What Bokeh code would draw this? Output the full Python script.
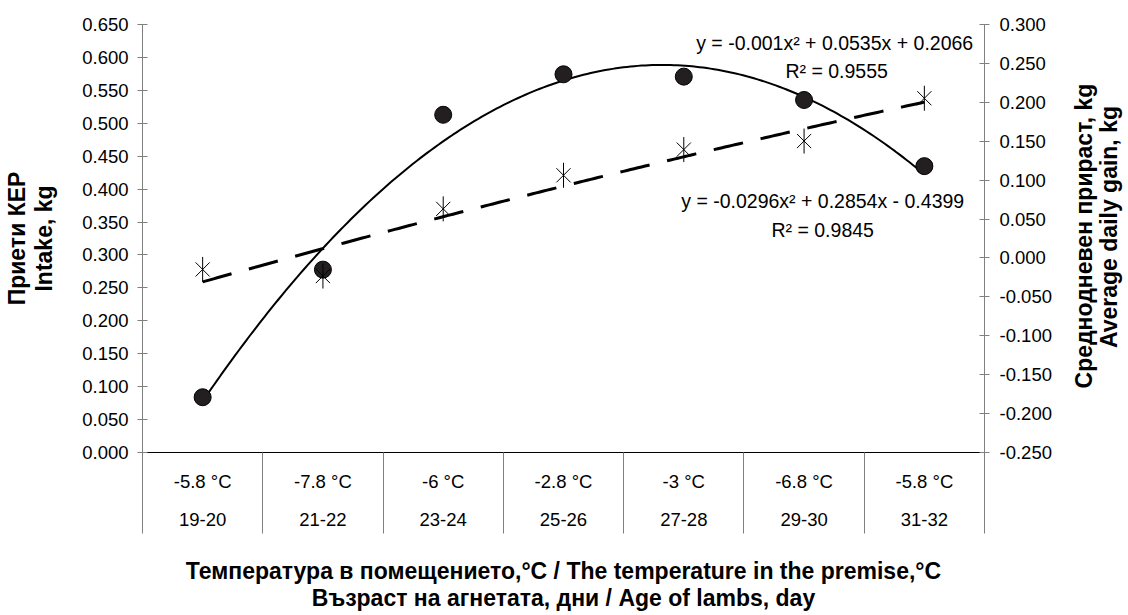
import math
import numpy as np
from bokeh.plotting import figure
from bokeh.layouts import row
from bokeh.models import (Range1d, LinearAxis, FixedTicker, NumeralTickFormatter, Label)
from bokeh.embed import file_html
from bokeh.resources import INLINE

# ---------------- data ----------------
temps = ["-5.8 °C", "-7.8 °C", "-6 °C", "-2.8 °C", "-3 °C", "-6.8 °C", "-5.8 °C"]
ages = ["19-20", "21-22", "23-24", "25-26", "27-28", "29-30", "31-32"]
x_pos = [1, 2, 3, 4, 5, 6, 7]
intake = [0.278, 0.268, 0.370, 0.421, 0.460, 0.473, 0.538]      # left axis, asterisks
gain = [-0.179, -0.015, 0.184, 0.236, 0.233, 0.203, 0.118]      # right axis, circles
intake_coef = [-0.001, 0.0535, 0.2066]
gain_coef = [-0.0296, 0.2854, -0.4399]
left_ticks = [round(0.05 * i, 3) for i in range(14)]
right_ticks = [round(-0.25 + 0.05 * i, 3) for i in range(12)]

FONT = "Liberation Sans"
TICK_FS = "18.5px"
TITLE_FS = "23px"
TITLE_LH = 1.05

W, H = 1128, 615
SIDE_W = 66                      # strip on the right holding the right-axis title
MAIN_W = W - SIDE_W
FL, FR, FT, FB = 141, 984, 24, 452

p = figure(width=MAIN_W, height=H, output_backend="svg", toolbar_location=None,
           x_range=Range1d(0.5, 7.5), y_range=Range1d(0, 0.65),
           min_border_left=FL, min_border_right=MAIN_W - FR,
           min_border_top=FT, min_border_bottom=H - FB)
p.outline_line_color = None
p.xgrid.visible = False
p.ygrid.visible = False
p.background_fill_color = "white"
p.border_fill_color = "white"

p.extra_y_ranges = {"right": Range1d(-0.25, 0.30)}

# left axis
ya = p.yaxis[0]
ya.ticker = FixedTicker(ticks=left_ticks)
ya.formatter = NumeralTickFormatter(format="0.000")
ya.axis_line_color = "#808080"
ya.major_tick_line_color = "#808080"
ya.major_tick_in = 5
ya.major_tick_out = 5
ya.minor_tick_line_color = None
ya.major_label_standoff = 9
ya.major_label_text_font = FONT
ya.major_label_text_font_size = TICK_FS
ya.major_label_text_color = "black"
ya.axis_label = "Приети КЕР\nIntake, kg"
ya.axis_label_text_font = FONT
ya.axis_label_text_font_size = TITLE_FS
ya.axis_label_text_font_style = "bold"
ya.axis_label_text_color = "black"
ya.axis_label_text_line_height = TITLE_LH
ya.axis_label_standoff = 22

# right axis
ra = LinearAxis(y_range_name="right")
ra.ticker = FixedTicker(ticks=right_ticks)
ra.formatter = NumeralTickFormatter(format="0.000")
ra.axis_line_color = "#808080"
ra.major_tick_line_color = "#808080"
ra.major_tick_in = 5
ra.major_tick_out = 5
ra.minor_tick_line_color = None
ra.major_label_standoff = 10
ra.major_label_text_font = FONT
ra.major_label_text_font_size = TICK_FS
ra.major_label_text_color = "black"
p.add_layout(ra, "right")

centers = x_pos
bounds = [0.5 + i for i in range(8)]

# bottom axis 1: temperature labels + category separators (minor ticks)
xa = p.xaxis[0]
xa.ticker = FixedTicker(ticks=centers, minor_ticks=bounds)
xa.major_label_overrides = {c: t for c, t in zip(centers, temps)}
xa.major_label_text_font = FONT
xa.major_label_text_font_size = TICK_FS
xa.major_label_text_color = "black"
xa.major_label_standoff = -63
xa.axis_line_color = "#000000"
xa.major_tick_line_color = None
xa.major_tick_in = 0
xa.major_tick_out = 0
xa.minor_tick_line_color = "#808080"
xa.minor_tick_in = 0
xa.minor_tick_out = 81

# bottom axis 2: age labels + axis title
xb = LinearAxis()
xb.ticker = FixedTicker(ticks=centers)
xb.major_label_overrides = {c: t for c, t in zip(centers, ages)}
xb.major_label_text_font = FONT
xb.major_label_text_font_size = TICK_FS
xb.major_label_text_color = "black"
xb.major_label_standoff = 18
xb.axis_line_color = None
xb.major_tick_line_color = None
xb.minor_tick_line_color = None
xb.major_tick_in = 0
xb.major_tick_out = 0
xb.axis_label = ("Температура в помещението,°C / The temperature in the premise,°C\n"
                 "Възраст на агнетата, дни / Age of lambs, day")
xb.axis_label_text_font = FONT
xb.axis_label_text_font_size = TITLE_FS
xb.axis_label_text_font_style = "bold"
xb.axis_label_text_color = "black"
xb.axis_label_text_line_height = TITLE_LH
xb.axis_label_standoff = 29
p.add_layout(xb, "below")

# helpers: page pixel -> data coordinates (for text inside the frame)
def dx(px):
    return 0.5 + (px - FL) / (FR - FL) * 7.0

def dy(py):
    return (FB - py) / (FB - FT) * 0.65

# trend lines
xs = np.linspace(1, 7, 200)
p.line(xs, np.polyval(gain_coef, xs), y_range_name="right",
       line_color="black", line_width=2)
p.line(xs, np.polyval(intake_coef, xs), line_color="black",
       line_width=3, line_dash="30 18")

# markers
p.scatter(x_pos, gain, y_range_name="right", marker="circle", size=17,
          fill_color="#231f20", line_color="black", line_width=1)
p.scatter(x_pos, intake, marker="x", size=20, line_color="black", line_width=1)
p.scatter(x_pos, intake, marker="dash", angle=np.pi / 2, size=25,
          line_color="black", line_width=1)

def add_text(txt, px, py, size="19.5px"):
    p.add_layout(Label(x=dx(px), y=dy(py), text=txt, text_font=FONT,
                       text_font_size=size, text_align="center",
                       text_baseline="middle", text_color="black"))

# equations
add_text("y = -0.001x² + 0.0535x + 0.2066", 834, 42)
add_text("R² = 0.9555", 836, 70)
add_text("y = -0.0296x² + 0.2854x - 0.4399", 822, 200)
add_text("R² = 0.9845", 822, 229)

# right-hand title strip (text reads bottom-to-top, like the reference)
side = figure(width=SIDE_W, height=H, output_backend="svg", toolbar_location=None,
              x_range=Range1d(0, SIDE_W), y_range=Range1d(0, H),
              x_axis_location=None, y_axis_location=None, min_border=0)
side.outline_line_color = None
side.xgrid.visible = False
side.ygrid.visible = False
side.background_fill_color = "white"
side.border_fill_color = "white"
for txt, px, py in [("Среднодневен прираст, kg", 1083, 304),
                    ("Average daily gain, kg", 1108, 291)]:
    side.add_layout(Label(x=px - MAIN_W, y=H - py, text=txt, text_font=FONT,
                          text_font_size=TITLE_FS, text_font_style="bold",
                          text_align="center", text_baseline="middle",
                          text_color="black", angle=math.pi / 2))

layout = row(p, side, spacing=0)
open("out.html", "w").write(file_html(layout, INLINE))
